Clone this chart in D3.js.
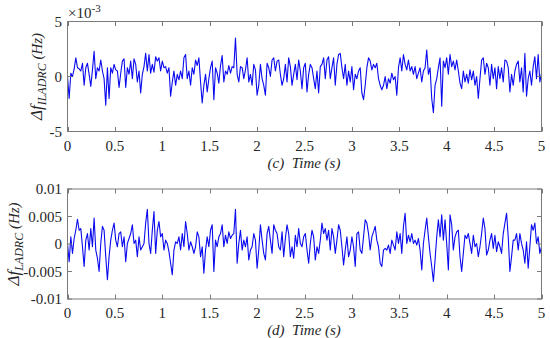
<!DOCTYPE html>
<html><head><meta charset="utf-8">
<script src="https://cdn.jsdelivr.net/npm/d3@7"></script>
<style>
  @font-face { font-family: 'ChartSerif'; font-style: normal; src: local('Liberation Serif'), local('LiberationSerif'), local('Liberation Serif Regular'); }
  @font-face { font-family: 'ChartSerif'; font-style: italic; src: local('Liberation Serif Italic'), local('LiberationSerif-Italic'); }
</style>
</head>
<body style="margin:0">
<script>
// top panel (c), values in units of 1e-3 Hz
const topValues = [
  0.0, -2.0, 0.3, 0.0, 0.7, 1.7, 0.8, 0.7, 0.5, 1.2, -0.8, 0.8, 1.2, 0.2, -0.9, 0.6, 2.3, -0.2, 0.8, 0.5,
  1.5, 0.5, -0.2, -2.6, 0.8, -2.0, 0.8, 0.3, 1.1, 0.6, 0.5, -1.0, 0.3, 1.4, 1.6, -1.0, 0.8, 0.2, 1.4, -0.2,
  1.6, 1.1, -0.5, 0.5, -1.5, 0.2, 0.9, 2.1, 0.5, 2.0, 0.3, 1.1, 0.4, 1.8, 1.4, 1.7, 0.5, 1.4, 0.8, 0.9,
  0.3, 0.8, -1.8, -0.5, 0.5, -0.8, 0.2, -0.3, 0.5, -0.2, 1.7, 2.0, -0.2, 0.5, -0.8, 0.8, 0.2, 1.5, 1.0, 1.7,
  -0.5, -2.4, -0.8, 0.2, -1.4, -0.2, 0.8, 1.4, -2.1, 0.8, 0.3, -0.6, 1.0, 1.9, -0.5, 0.5,
  0.2, 1.0, 0.3, 0.9, 0.8, 3.5, 0.2, -0.5, 0.9, 0.8, -0.2, 0.6, 1.7, -0.5, 0.2, -0.8, 1.1, 0.6, -1.7, -0.8,
  1.1, -0.2, -0.8, -1.7, 1.2, 0.8, 0.0, 1.5, 1.7, 0.5, 1.4, 1.5, 0.2, -0.8, -0.2, 1.1, -0.5, 1.7, 0.9, -0.8,
  0.2, 1.1, -0.3, 1.5, 0.5, -1.1, 0.8, 1.2, -1.4, 0.2, 1.1, 0.8, -0.2, -1.1, 0.5, -1.5, 0.9, 1.1, 1.7, -0.2,
  1.5, 1.8, -0.2, 0.8, 1.7, -0.8, 1.1, 2.0, 2.1, 0.8, -0.2, 1.1, -0.8, 0.5, -0.5, 0.9, -1.2, 0.2, -0.2, 0.5,
  0.8, -1.5, -2.1, -0.8, 0.8, 1.7, 1.4, 0.6, 1.1, 0.8, 1.2, -0.2, -0.8, -1.2,
  -0.8, 0.0, -1.1, -0.2, -0.6, 0.3, -0.3, 0.0, -1.7, 0.8, 1.7, 0.5, 2.0, 1.1, 0.6, 1.5, 0.5, 0.9, 0.2, 0.9,
  -0.2, 0.3, 0.8, -0.5, 0.5, 0.8, 2.4, 0.2, 0.8, -2.0, -3.3, -0.8, -0.2, 0.8, 1.7, -2.7, 1.4, 0.8, 1.7, 0.2,
  2.0, 0.9, 1.4, 0.6, 1.5, 0.5, -0.6, -1.1, 0.5, -0.5, 0.2, -0.6, 0.6, -0.3, 0.5, -0.8, 0.0, -2.0, -0.2, 1.5,
  1.7, 0.2, 1.2, 0.8, -0.8, 1.1, -0.2, 0.8, -1.1, 0.9, -0.2, 0.8, -0.5, 1.5, 1.4, 0.8, -1.4, 0.2, -0.8, 0.5,
  1.1, 1.4, -0.5, 0.8, -1.4, 2.1, -1.8, -0.2, 0.5, -0.8, 0.9, 1.8, -0.2, 2.0, -0.5, 0.3
];

// bottom panel (d), values in units of 1e-3 Hz
const bottomValues = [
  0.1, -3.2, 1.3, -1.7, 1.0, 2.5, 4.5, 2.5, 2.8, -0.5, -4.1, 0.7, 1.9, -1.1, 2.8, -0.5, 4.7, -1.1, -2.6, -5.0,
  0.1, 3.2, 2.5, -2.3, -6.5, -2.3, 0.7, 2.5, 3.8, 0.7, -0.5, 1.9, 2.2, -0.5, 1.3, -3.2, 0.1, 1.0, 1.9, 3.5,
  0.1, 0.7, -2.3, 1.3, -1.1, -0.5, 0.1, 3.8, 6.3, 0.1, -1.7, 2.5, 5.9, -1.7, 2.5, 4.1, 1.3, 1.9, -1.1, 0.7,
  0.1, -1.4, -3.5, -5.6, -1.1, 0.4, 0.1, 1.3, -1.1, 1.9, -0.5, 4.1, 1.9, -1.1, 0.4, -0.5, -1.7, -0.5, 2.2, 1.3,
  -2.3, -0.5, -5.3, -1.1, 1.3, -0.5, 2.5, 3.5, -5.0, 0.7, -0.5, 1.3, 1.9, 3.5, -0.5, 1.6,
  0.1, 2.2, 1.0, 1.6, 1.9, 6.3, -3.5, 0.1, 2.5, -1.1, 0.7, -0.5, 1.3, -2.9, -1.1, -0.5, 1.9, 0.7, -4.4, -1.1,
  3.5, 0.7, -1.7, -2.9, 1.9, 3.2, 0.7, -1.7, 3.5, 2.5, 1.9, -0.5, -1.1, 2.2, -2.3, 1.0, 3.5, 1.9, -2.3, -0.5,
  -2.6, 1.6, -0.5, 2.8, 0.1, -0.5, 1.3, 1.9, -1.1, -3.5, 0.1, 2.5, 1.3, -2.9, -0.5, -1.7, 0.7, 3.8, 1.9, 2.8,
  0.7, 2.5, -1.1, 2.8, 1.3, -1.7, 0.7, 3.5, 2.5, -0.5, -3.8, -1.1, 1.3, -2.3, -1.1, 1.3, -0.5, -4.1, 1.9, 2.2,
  -1.1, -1.7, 1.3, 4.4, 3.8, 1.9, -1.1, 1.3, 2.2, 3.2, 0.7, -0.5, -3.5, -4.1,
  -1.1, -0.8, -1.1, -0.2, -1.7, 0.7, -0.2, -1.1, 2.2, 0.1, 1.9, -1.7, 3.2, 5.6, 0.1, 1.6, 0.4, 1.9, 0.1, 0.7,
  -0.2, 1.0, -1.1, -4.7, 0.1, 2.5, 4.7, 1.3, -1.7, -4.1, -6.8, -2.9, 1.3, 4.4, 1.3, 5.3, 0.7, 4.4, 0.1, -4.7,
  5.3, 3.5, -1.1, 1.3, 2.2, 2.5, -2.3, -5.0, -1.7, 1.6, 1.0, 1.9, 0.1, -1.7, 1.6, -0.5, 0.1, -2.3, -0.5, 1.9,
  4.7, 2.8, -2.0, -1.1, 0.7, 1.9, -0.8, 1.6, -1.4, 0.4, -0.5, -1.7, 1.9, 3.8, 5.6, 1.3, -5.0, -2.3, 0.7, 0.7,
  1.9, -1.1, 1.9, 0.1, -1.1, -3.5, 0.4, -4.4, -0.5, 3.5, 2.5, 3.8, 0.1, 1.3, -1.7, -0.5
];

const xTicks = [0, 0.5, 1, 1.5, 2, 2.5, 3, 3.5, 4, 4.5, 5];
const xTickLabels = ['0', '0.5', '1', '1.5', '2', '2.5', '3', '3.5', '4', '4.5', '5'];
const topYTicks = [-5, 0, 5];
const topYTickLabels = ['-5', '0', '5'];
const bottomYTicks = [-0.01, -0.005, 0, 0.005, 0.01];
const bottomYTickLabels = ['-0.01', '-0.005', '0', '0.005', '0.01'];

const W = 550, H = 338;
const FONT = "'Liberation Serif', 'ChartSerif', 'Times New Roman', Times";
const svg = d3.select('body').append('svg')
    .attr('width', W).attr('height', H)
    .attr('font-family', 'Liberation Serif')
    .style('font-family', FONT);

// every text gets its font set on itself too
function label(sel, size) {
    return sel.append('text')
        .attr('font-family', 'Liberation Serif')
        .style('font-family', FONT)
        .attr('font-size', size)
        .attr('fill', '#262626');
}

const x = d3.scaleLinear().domain([0, 5]).range([67.5, 541.5]);

function drawPanel(opts) {
    const y = d3.scaleLinear().domain(opts.domain).range([opts.bottom, opts.top]);
    const n = opts.values.length;
    const pts = opts.values.map((v, i) => [5 * i / (n - 1), v * opts.unit]);

    svg.append('path')
        .datum(pts)
        .attr('fill', 'none')
        .attr('stroke', '#0a0af0')
        .attr('stroke-width', 1.1)
        .attr('stroke-linejoin', 'round')
        .attr('d', d3.line().x(d => x(d[0])).y(d => y(d[1])));

    // box
    svg.append('rect')
        .attr('x', 67.5).attr('y', opts.top)
        .attr('width', 474).attr('height', opts.bottom - opts.top)
        .attr('fill', 'none').attr('stroke', '#7a7a7a').attr('stroke-width', 1);

    // inward ticks, like matlab
    const tl = 4.5;
    xTicks.forEach((t, i) => {
        const px = Math.round(x(t)) + 0.5;
        svg.append('line').attr('x1', px).attr('x2', px).attr('y1', opts.bottom).attr('y2', opts.bottom - tl)
            .attr('stroke', '#7a7a7a');
        svg.append('line').attr('x1', px).attr('x2', px).attr('y1', opts.top).attr('y2', opts.top + tl)
            .attr('stroke', '#7a7a7a');
        label(svg, 15).attr('x', x(t)).attr('y', opts.bottom + 19)
            .attr('text-anchor', 'middle').text(xTickLabels[i]);
    });
    opts.yTicks.forEach((t, i) => {
        const py = y(t);
        svg.append('line').attr('x1', 67.5).attr('x2', 67.5 + tl).attr('y1', py).attr('y2', py).attr('stroke', '#7a7a7a');
        svg.append('line').attr('x1', 541.5).attr('x2', 541.5 - tl).attr('y1', py).attr('y2', py).attr('stroke', '#7a7a7a');
        label(svg, 15).attr('x', 62).attr('y', py + 5)
            .attr('text-anchor', 'end').text(opts.yTickLabels[i]);
    });

    // x label
    label(svg, 15).attr('x', 304).attr('y', opts.bottom + 36)
        .attr('text-anchor', 'middle').attr('font-style', 'italic')
        .text(opts.xLabel);

    // y label
    const yl = label(svg, 17)
        .attr('transform', `translate(${opts.yLabelX},${(opts.top + opts.bottom) / 2}) rotate(-90)`)
        .attr('text-anchor', 'middle').attr('font-style', 'italic');
    yl.append('tspan').text('Δf');
    yl.append('tspan').attr('font-size', 12).attr('dy', 4).text(opts.sub);
    yl.append('tspan').attr('font-size', 15).attr('dy', -4).text(' (Hz)');
}

drawPanel({
    values: topValues, unit: 1, domain: [-5, 5], top: 21.5, bottom: 131.5,
    yTicks: topYTicks, yTickLabels: topYTickLabels,
    xLabel: '(c)\u00a0\u00a0Time (s)', sub: 'ILADRC', yLabelX: 42
});

drawPanel({
    values: bottomValues, unit: 0.001, domain: [-0.01, 0.01], top: 189, bottom: 299,
    yTicks: bottomYTicks, yTickLabels: bottomYTickLabels,
    xLabel: '(d)\u00a0\u00a0Time (s)', sub: 'LADRC', yLabelX: 19
});

// exponent label
const ex = label(svg, 15).attr('x', 68).attr('y', 18);
ex.append('tspan').text('×10');
ex.append('tspan').attr('font-size', 11).attr('dy', -6).text('-3');
</script>
</body>
</html>
